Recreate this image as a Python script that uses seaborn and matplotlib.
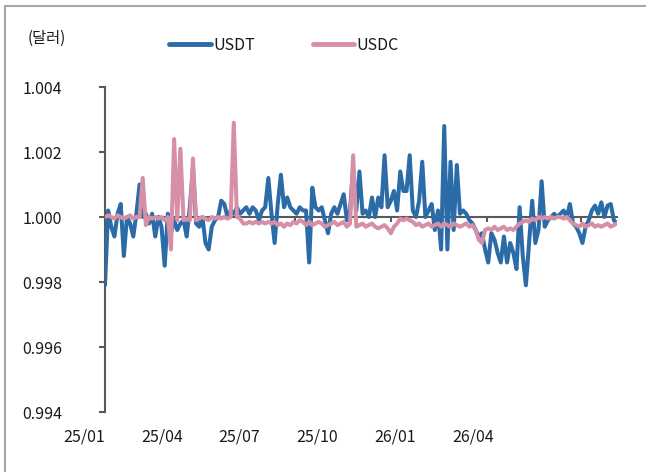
import pandas as pd
import matplotlib.pyplot as plt
import seaborn as sns
import numpy as np
from matplotlib.patches import Rectangle
from matplotlib.lines import Line2D

# 3-day sampling, 2025-01-01 .. 2026-05-04
start_date = '2025-01-01'
step = '3D'

usdt = [
    0.9979, 1.0002, 0.9997, 0.9994, 1.0001, 1.0004, 0.9988, 1.0000, 0.9998, 0.9994,
    1.0001, 1.0010, 1.0000, 1.0001, 0.9998, 1.0001, 0.9994, 1.0000, 0.9997, 0.9985,
    1.0001, 0.9995, 0.9999, 0.9996, 0.9998, 0.9999, 0.9994, 1.0003, 1.0015, 0.9998,
    0.9997, 1.0000, 0.9992, 0.9990, 0.9997, 0.9999, 1.0000, 1.0005, 1.0004, 1.0000,
    1.0002, 1.0001, 1.0003, 1.0001, 1.0002, 1.0003, 1.0001, 1.0003, 1.0002, 0.9999,
    1.0002, 1.0003, 1.0012, 1.0001, 0.9992, 1.0004, 1.0013, 1.0003, 1.0006, 1.0003,
    1.0002, 1.0001, 1.0003, 1.0002, 1.0002, 0.9986, 1.0009, 1.0003, 1.0002, 1.0003,
    0.9999, 0.9995, 1.0001, 1.0003, 1.0001, 1.0004, 1.0007, 0.9999, 1.0002, 1.0015,
    1.0002, 1.0014, 1.0001, 1.0002, 1.0000, 1.0006, 1.0000, 1.0006, 1.0003, 1.0019,
    1.0003, 1.0005, 1.0008, 1.0002, 1.0014, 1.0008, 1.0008, 1.0019, 1.0002, 1.0000,
    1.0005, 1.0017, 1.0000, 1.0002, 1.0004, 0.9996, 1.0002, 0.9990, 1.0028, 0.9990,
    1.0017, 0.9996, 1.0016, 1.0001, 1.0002, 1.0001, 0.9999, 0.9998, 0.9996, 0.9994,
    0.9995, 0.9990, 0.9986, 0.9995, 0.9993, 0.9989, 0.9986, 0.9994, 0.9986, 0.9992,
    0.9989, 0.9984, 1.0003, 0.9988, 0.9979, 0.9992, 1.0005, 0.9992, 0.9996, 1.0011,
    0.9997, 0.9999, 1.0000, 1.0001, 1.0000, 1.0001, 1.0002, 1.0000, 1.0004, 0.9998,
    0.9997, 0.9995, 0.9992, 0.9997, 0.9999, 1.0002, 1.00035, 1.0001, 1.00045, 1.0000,
    1.00035, 1.0004, 0.9999, 0.9998,
]

usdc = [
    1.0000, 1.00005, 1.0000, 0.99995, 1.00005, 1.0000, 0.99995, 1.0000, 1.00005, 0.99995,
    1.0000, 1.0000, 1.0012, 0.99975, 1.0000, 0.99995, 1.0000, 0.99995, 1.0000, 0.9999,
    1.0000, 0.9990, 1.0024, 0.9999, 1.0021, 0.9999, 0.99995, 0.9999, 1.0018, 0.9999,
    0.99995, 1.0000, 0.99995, 0.9999, 1.0000, 0.99995, 1.0000, 0.99995, 1.0000, 0.99995,
    1.0000, 1.0029, 1.0000, 0.99995, 0.9998, 0.9998, 0.99985, 0.9998, 0.99985, 0.9998,
    0.99985, 0.9998, 0.99985, 0.9998, 0.99985, 0.99975, 0.9998, 0.9997, 0.9998, 0.99975,
    0.99985, 0.9998, 0.9999, 0.99985, 0.99975, 0.99985, 0.99975, 0.9998, 0.99985, 0.9998,
    0.9997, 0.99975, 0.9998, 0.99985, 0.99975, 0.9998, 0.99985, 0.9997, 0.9998, 1.0019,
    0.9997, 0.99975, 0.9998, 0.9997, 0.99975, 0.9998, 0.9997, 0.99965, 0.9997, 0.99975,
    0.99965, 0.9995, 0.9997, 0.9998, 0.99995, 0.9999, 0.99995, 0.9999, 0.99985, 0.99975,
    0.9998, 0.9997, 0.99975, 0.9998, 0.9997, 0.99975, 0.9998, 0.9997, 0.9998, 0.99975,
    0.9997, 0.9998, 0.99975, 0.9997, 0.99975, 0.9998, 0.9997, 0.99975, 0.9996, 0.9993,
    0.9992, 0.9996, 0.99965, 0.9996, 0.9997, 0.9996, 0.99965, 0.9997, 0.9996, 0.99965,
    0.9996, 0.9997, 0.9998, 0.99985, 0.9999, 0.99985, 0.99995, 0.9999, 1.0000, 0.99995,
    1.0000, 0.99995, 1.0000, 0.99995, 1.0000, 1.0000, 0.99995, 1.0000, 0.9999, 0.9998,
    0.99975, 0.9997, 0.9998, 0.9997, 0.99975, 0.9998, 0.9997, 0.99975, 0.9997, 0.99975,
    0.9998, 0.9997, 0.99975, 0.9998,
]

series_names = ['USDT', 'USDC']
colors = ['#2B6CA8', '#D68FA6']
quarter_ticks = ['2025-01-01', '2025-04-01', '2025-07-01', '2025-10-01', '2026-01-01', '2026-04-01']
quarter_labels = ['25/01', '25/04', '25/07', '25/10', '26/01', '26/04']
y_ticks = [0.994, 0.996, 0.998, 1.000, 1.002, 1.004]

dates = pd.date_range(start_date, periods=len(usdt), freq=step)
df = pd.concat([
    pd.DataFrame({'date': dates, 'price': usdt, 'series': 'USDT'}),
    pd.DataFrame({'date': dates, 'price': usdc, 'series': 'USDC'}),
])

sns.set_theme(style='white')
plt.rcParams['font.family'] = ['Noto Sans CJK KR', 'DejaVu Sans']
txt = '#1a1a1a'
axis_col = '#595959'

W, H = 646, 472
fig = plt.figure(figsize=(W / 100, H / 100), dpi=100)
ax = fig.add_axes([105 / W, 1 - 412 / H, (617 - 105) / W, (412 - 87) / H])

sns.lineplot(data=df, x='date', y='price', hue='series', palette=dict(zip(series_names, colors)),
             linewidth=2.9, ax=ax, legend=False, zorder=3)

ax.set_xlim(dates[0], dates[-1])
ax.set_ylim(0.994, 1.004)
ax.set_xlabel('')
ax.set_ylabel('')

for s in ['top', 'right']:
    ax.spines[s].set_visible(False)
ax.spines['left'].set_color(axis_col)
ax.spines['left'].set_linewidth(1.5)
ax.spines['bottom'].set_position(('data', 1.0))
ax.spines['bottom'].set_color(axis_col)
ax.spines['bottom'].set_linewidth(1.5)

ax.set_xticks(pd.to_datetime(quarter_ticks))
ax.set_xticklabels([''] * len(quarter_ticks))
ax.tick_params(axis='x', direction='out', length=3.5, width=1.5, color=axis_col, bottom=True)

ax.set_yticks(y_ticks)
ax.set_yticklabels([f'{v:.3f}' for v in y_ticks], fontsize=11.5, color=txt)
ax.tick_params(axis='y', direction='out', length=4, width=1.5, color=axis_col, pad=27, left=True)

# date labels sit below the plot, spaced independently of the tick marks
lab = fig.add_axes([(84 - 38.9) / W, 1 - 428 / H, 6 * 77.8 / W, 0.001])
lab.set_xlim(-0.5, 5.5)
lab.set_xticks(range(len(quarter_labels)))
lab.set_xticklabels(quarter_labels, fontsize=11.5, color=txt)
lab.tick_params(axis='x', length=0, pad=0)
lab.set_yticks([])
lab.patch.set_visible(False)
for s in lab.spines.values():
    s.set_visible(False)

fig.text(28 / W, 1 - 38 / H, '(달러)', fontsize=11, color=txt, ha='left', va='center')

handles = [Line2D([0], [0], color=c, lw=3.5) for c in colors]
fig.legend(handles, series_names, loc='center', bbox_to_anchor=(284 / W, 1 - 45 / H), ncol=2,
           frameon=False, fontsize=11.5, handlelength=2.6, handletextpad=0.15, columnspacing=3.6,
           labelcolor=txt)

fig.add_artist(Rectangle((5 / W, -0.1), 1.2, 1 - 6 / H + 0.1, transform=fig.transFigure,
                         fill=False, edgecolor='#a6a6a6', lw=1.5))

fig.savefig('out.png', dpi=100)
